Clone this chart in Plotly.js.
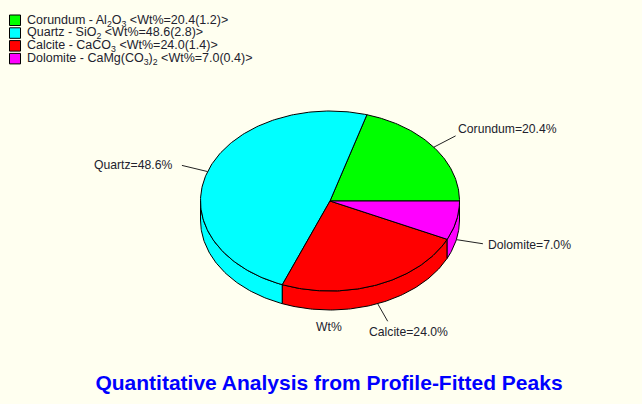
<!DOCTYPE html>
<html><head><meta charset="utf-8">
<script src="https://cdn.plot.ly/plotly-3.0.1.min.js"></script>
<style>html,body{margin:0;padding:0;background:#FFFFF0;} #chart{width:642px;height:404px;}</style>
</head><body><div id="chart"></div>
<script>
// ---- data ----
const categories = ['Corundum', 'Quartz', 'Calcite', 'Dolomite'];
const formulas = ['Al<sub>2</sub>O<sub>3</sub>', 'SiO<sub>2</sub>', 'CaCO<sub>3</sub>', 'CaMg(CO<sub>3</sub>)<sub>2</sub>'];
const wtPercent = [20.4, 48.6, 24.0, 7.0];
const wtError = [1.2, 2.8, 1.4, 0.4];
const pieTitle = 'Wt%';
const chartTitle = 'Quantitative Analysis from Profile-Fitted Peaks';

// ---- style / layout ----
const sliceColors = ['#00FF00', '#00FFFF', '#FF0000', '#FF00FF'];
const FONT = 'Liberation Sans, Arial, sans-serif';
const TEXTC = '#22222e';
const CX = 330, CY = 201, RX = 129.5, RY = 90, DEPTH = 19, LEADK = 0.21;
const labelPlace = [
  {xanchor: 'left', yanchor: 'bottom', dx: 1, dy: 1},
  {xanchor: 'right', yanchor: 'middle', dx: -9, dy: 0},
  {xanchor: 'left', yanchor: 'top', dx: -20, dy: 3},
  {xanchor: 'left', yanchor: 'middle', dx: 4, dy: 1}
];

const total = wtPercent.reduce((a, b) => a + b, 0);
const deg = Math.PI / 180;
function pt(a, dz) { return [CX + RX * Math.cos(a * deg), CY - RY * Math.sin(a * deg) + (dz || 0)]; }
function arc(a1, a2, dz) {
  const n = Math.max(2, Math.ceil(Math.abs(a2 - a1)));
  const xs = [], ys = [];
  for (let i = 0; i <= n; i++) { const p = pt(a1 + (a2 - a1) * i / n, dz); xs.push(p[0]); ys.push(p[1]); }
  return [xs, ys];
}

let start = 0;
const slices = wtPercent.map(v => { const a1 = start, a2 = start + 360 * v / total; start = a2; return [a1, a2]; });

const polyStyle = (c) => ({type: 'scatter', mode: 'lines', fill: 'toself', fillcolor: c,
  line: {color: '#000', width: 1}, hoverinfo: 'skip', showlegend: false});

const sideTraces = [], topTraces = [], leaderTraces = [], annotations = [], shapes = [];
slices.forEach(([a1, a2], i) => {
  const s = Math.max(a1, 180), e = Math.min(a2, 360);
  if (e > s) {
    const [tx, ty] = arc(s, e, 0);
    const [bx, by] = arc(e, s, DEPTH);
    sideTraces.push(Object.assign({x: [...tx, ...bx, tx[0]], y: [...ty, ...by, ty[0]]}, polyStyle(sliceColors[i])));
  }
  const [ax, ay] = arc(a1, a2, 0);
  topTraces.push(Object.assign({x: [CX, ...ax, CX], y: [CY, ...ay, CY]}, polyStyle(sliceColors[i])));

  const m = (a1 + a2) / 2;
  const sn = Math.sin(m * deg), cs = Math.cos(m * deg);
  const p = pt(m, sn < 0 ? DEPTH : 0);
  const end = [p[0] + LEADK * RX * cs, p[1] - LEADK * RY * sn];
  leaderTraces.push({type: 'scatter', mode: 'lines', x: [p[0], end[0]], y: [p[1], end[1]],
    line: {color: '#222', width: 1}, hoverinfo: 'skip', showlegend: false});
  const lp = labelPlace[i];
  annotations.push({x: end[0] + lp.dx, y: end[1] + lp.dy, xref: 'x', yref: 'y', showarrow: false,
    xanchor: lp.xanchor, yanchor: lp.yanchor, borderpad: 0,
    text: categories[i] + '=' + wtPercent[i].toFixed(1) + '%',
    font: {family: FONT, size: 12.2, color: TEXTC}});

  // legend
  const ly = 15 + i * 12.8;
  shapes.push({type: 'rect', xref: 'x', yref: 'y', x0: 9.5, x1: 20.5, y0: ly, y1: ly + 10.5,
    fillcolor: sliceColors[i], line: {color: '#000', width: 1}});
  annotations.push({x: 25.5, y: ly + 5.6, xref: 'x', yref: 'y', showarrow: false, xanchor: 'left', yanchor: 'middle',
    borderpad: 0,
    text: categories[i] + ' - ' + formulas[i] + ' &lt;Wt%=' + wtPercent[i].toFixed(1) + '(' + wtError[i].toFixed(1) + ')&gt;',
    font: {family: FONT, size: 12.5, color: TEXTC}});
});

annotations.push({x: CX - 1, y: 327, xref: 'x', yref: 'y', showarrow: false, xanchor: 'center', yanchor: 'middle',
  text: pieTitle, font: {family: FONT, size: 12.2, color: TEXTC}});

const layout = {
  width: 642, height: 404,
  margin: {l: 0, r: 0, t: 0, b: 0},
  paper_bgcolor: '#FFFFF0', plot_bgcolor: '#FFFFF0',
  xaxis: {range: [0, 642], visible: false, fixedrange: true},
  yaxis: {range: [404, 0], visible: false, fixedrange: true},
  showlegend: false,
  title: {text: '<b>' + chartTitle + '</b>', x: 329 / 642, xanchor: 'center', y: 1 - 382.5 / 404, yanchor: 'middle',
    font: {family: FONT, size: 21, color: '#0000FF'}},
  annotations: annotations,
  shapes: shapes
};

Plotly.newPlot('chart', [...sideTraces, ...topTraces, ...leaderTraces], layout, {staticPlot: true, displayModeBar: false});
</script>
</body></html>
